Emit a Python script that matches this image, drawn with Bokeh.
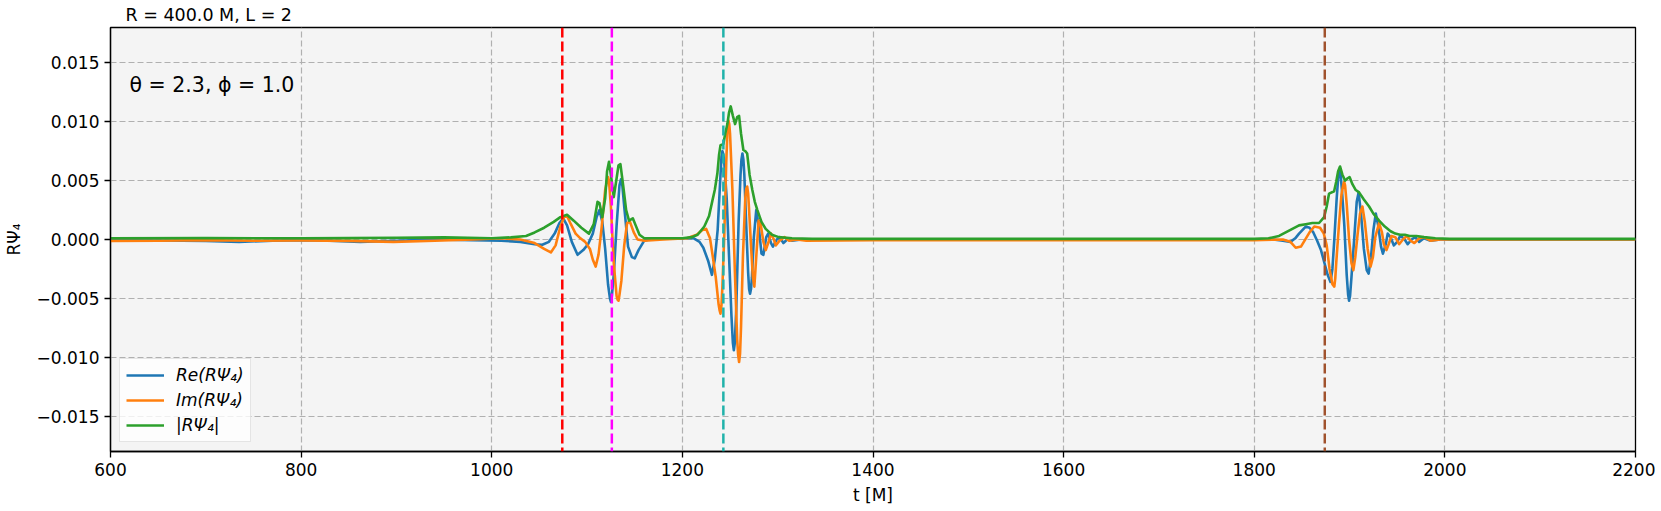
from bokeh.plotting import figure
from bokeh.models import Range1d, FixedTicker, CustomJSTickFormatter, Span, Label
from bokeh.embed import file_html
from bokeh.resources import INLINE

# ---------------- data: (t [M], value) ----------------
re_points = [
    (600, -0.00005), (650, -0.00008), (700, -0.00012), (735, -0.0002), (770, -0.0001),
    (800, -0.00005), (830, -0.0001), (862, -0.0002), (900, -0.0001), (940, 0.0),
    (980, -0.00005), (1010, -0.0001), (1030, -0.0002), (1045, -0.0004), (1053, -0.00045),
    (1060, -0.0002), (1066, 0.0005), (1071, 0.0014), (1075, 0.0018), (1079, 0.0012),
    (1084, -0.0002), (1090, -0.0013), (1096, -0.0009), (1101, -0.0004), (1106, 0.0005),
    (1110, 0.0019), (1113, 0.0025), (1116, 0.0015), (1119, -0.0008), (1122, -0.0038),
    (1124, -0.005), (1125, -0.0053), (1126, -0.0048), (1128, -0.003), (1131, 0.0012),
    (1134, 0.0046), (1135.5, 0.0051), (1137, 0.0046), (1139, 0.0028), (1143, -0.0006),
    (1147, -0.0015), (1150, -0.0016), (1154, -0.0009), (1160, -0.0001), (1170, 0.0001),
    (1190, 0.0001), (1205, 0.0001), (1212, 0.0001), (1218, -0.0002), (1222, -0.0007),
    (1227, -0.0018), (1231, -0.003), (1234, -0.0017), (1237, 0.0008), (1240, 0.0055),
    (1241, 0.007), (1242, 0.0075), (1243, 0.0072), (1244, 0.0065), (1246.5, 0.0035),
    (1249, -0.0015), (1251.5, -0.0065), (1253, -0.0088), (1254, -0.0094), (1255, -0.0088),
    (1256.5, -0.006), (1259, 0.0015), (1261, 0.0055), (1262, 0.0068), (1263, 0.0073),
    (1264, 0.0068), (1265, 0.0055), (1267, 0.0012), (1269, -0.0028), (1270, -0.0042),
    (1271, -0.0046), (1272, -0.0042), (1273, -0.0032), (1275, 0.0002), (1277.5, 0.0025),
    (1280, 0.0012), (1283, -0.0012), (1285, -0.0013), (1288, 0.0002), (1290, 0.0005),
    (1293, -0.0003), (1295, -0.0006), (1299, 0.0), (1302, 0.0002), (1306, -0.0003),
    (1310, 0.0), (1315, -0.0001), (1325, 0.0), (1400, 0.0), (1600, 0.0), (1800, 0.0),
    (1820, 0.0), (1830, -0.0001), (1838, -0.0002), (1843, 0.0001), (1847, 0.0005),
    (1854, 0.0011), (1858, 0.001), (1862, 0.0006), (1866, -0.0001), (1870, -0.0009),
    (1874, -0.0021), (1877, -0.003), (1880, -0.0036), (1882, -0.0025), (1884, 0.0),
    (1886.5, 0.0035), (1888.5, 0.0057), (1889.5, 0.006), (1890.5, 0.0056), (1892, 0.0042),
    (1894.5, 0.0012), (1897, -0.003), (1898.5, -0.0047), (1899.5, -0.0052), (1900.5, -0.0048),
    (1902, -0.0032), (1905, 0.0002), (1907.5, 0.0032), (1909.5, 0.004), (1912, 0.0022),
    (1915, -0.0008), (1918, -0.0026), (1920, -0.0029), (1922.5, -0.0015), (1925, 0.0008),
    (1927.5, 0.0022), (1930, 0.0012), (1933, -0.0006), (1935, -0.0012), (1938, -0.0004),
    (1940, 0.0005), (1943, 0.0002), (1946.5, -0.0005), (1950, -0.0002), (1953, 0.0003),
    (1957, 0.0001), (1961, -0.0004), (1965, 0.0), (1969, 0.0002), (1973, -0.0002),
    (1978, 0.0001), (1985, -0.0001), (1995, 0.0), (2050, 0.0), (2200, 0.0),
]

im_points = [
    (600, -0.00012), (650, -0.0001), (700, -0.00005), (750, -0.0001), (800, -0.00008),
    (850, -0.00012), (897, -0.0002), (940, -0.0001), (980, 0.0), (1010, 0.0001),
    (1030, 0.0), (1045, -0.0003), (1055, -0.0008), (1062, -0.0011), (1067, -0.0005),
    (1072, 0.0011), (1076, 0.0019), (1079, 0.002), (1083, 0.0013), (1088, 0.0005),
    (1093, 0.0001), (1098, -0.0002), (1103, -0.0008), (1106, -0.0017), (1109, -0.0023),
    (1112, -0.0013), (1115, 0.0008), (1119, 0.0042), (1121, 0.005), (1122, 0.0053),
    (1123, 0.005), (1125, 0.0028), (1128, -0.002), (1131, -0.0048), (1132, -0.0051),
    (1133, -0.0052), (1134, -0.0047), (1136, -0.0035), (1139, -0.0005), (1142, 0.0014),
    (1145, 0.0015), (1149, 0.0006), (1153, 0.0), (1160, -0.0001), (1180, 0.0),
    (1205, 0.0001), (1215, 0.0004), (1221, 0.0008), (1225, 0.0009), (1229, 0.0001),
    (1232, -0.0015), (1235, -0.0032), (1238, -0.0055), (1239, -0.006), (1240, -0.0063),
    (1241, -0.0056), (1242, -0.004), (1244, 0.0005), (1246, 0.0065), (1247.3, 0.0092),
    (1248.3, 0.0101), (1249.2, 0.0098), (1250, 0.009), (1252.5, 0.0042), (1255, -0.0025),
    (1257.5, -0.0085), (1258.5, -0.0098), (1259.5, -0.0104), (1260.5, -0.0097),
    (1261.5, -0.0075), (1263.5, -0.0015), (1266, 0.0035), (1267, 0.0043), (1268, 0.0045),
    (1269, 0.0039), (1270, 0.0025), (1272, -0.0005), (1274, -0.0032), (1275.5, -0.004),
    (1277.5, -0.0015), (1280, 0.0016), (1282, 0.0014), (1285, -0.0002), (1287.5, -0.0009),
    (1290, -0.0003), (1293, 0.0005), (1296, 0.0), (1298, -0.0005), (1302, -0.0001),
    (1307, 0.0002), (1312, -0.0001), (1320, 0.0), (1330, -0.0001), (1400, -0.00005),
    (1600, -0.00005), (1800, -0.00005), (1830, 0.0), (1838, -0.0002), (1843.5, -0.0007),
    (1849, -0.0006), (1855, 0.0002), (1858, 0.0006), (1863, 0.0011), (1869, 0.001),
    (1873, 0.0005), (1876, -0.0005), (1879, -0.0025), (1882, -0.0038), (1883, -0.0039),
    (1884, -0.004), (1885, -0.0033), (1886, -0.002), (1889, 0.0014), (1891.5, 0.0038),
    (1893.3, 0.0046), (1894.3, 0.0049), (1895.3, 0.0046), (1897, 0.003), (1899.5, 0.0),
    (1902, -0.002), (1904, -0.0026), (1906, -0.0015), (1908.5, 0.0005), (1911, 0.0022),
    (1913.5, 0.0028), (1916, 0.0015), (1919, -0.0008), (1922, -0.0023), (1924.5, -0.0015),
    (1927, 0.0002), (1931, 0.0014), (1934, 0.0006), (1936, -0.0004), (1938.7, -0.0009),
    (1941, -0.0004), (1944, 0.0003), (1948, 0.0002), (1952, -0.0004), (1956, 0.0),
    (1960, 0.0003), (1964, -0.0001), (1968, -0.0003), (1973, 0.0001), (1978, 0.0002),
    (1985, -0.0001), (1995, 0.0), (2200, 0.0),
]

abs_points = [
    (600, 0.0001), (700, 0.00012), (800, 0.0001), (850, 0.00012), (900, 0.00015),
    (950, 0.00018), (1000, 0.0001), (1020, 0.00018), (1036, 0.0003), (1045, 0.0006),
    (1055, 0.001), (1065, 0.0015), (1072, 0.0019), (1079, 0.0021), (1086, 0.0016),
    (1094, 0.001), (1102, 0.0005), (1107, 0.0013), (1111, 0.0032), (1113, 0.0031),
    (1116, 0.0019), (1119, 0.0035), (1121, 0.0058), (1123, 0.0066), (1125, 0.0055),
    (1128, 0.0036), (1131, 0.0052), (1133, 0.0063), (1135, 0.0064), (1138, 0.0045),
    (1141, 0.0025), (1144, 0.0016), (1148, 0.0018), (1151, 0.0012), (1155, 0.0004),
    (1160, 0.0001), (1200, 0.0001), (1210, 0.0002), (1216, 0.0004), (1223, 0.0011),
    (1228, 0.002), (1231.5, 0.0033), (1234, 0.0042), (1236.7, 0.0056), (1238.5, 0.0072),
    (1240, 0.008), (1243, 0.0081), (1245, 0.009), (1247.2, 0.0098), (1249, 0.0108),
    (1250.7, 0.0113), (1253, 0.0105), (1255.3, 0.0098), (1257.5, 0.0104), (1259.5, 0.0105),
    (1261.5, 0.009), (1264, 0.0076), (1266, 0.0075), (1268, 0.0073), (1270.5, 0.0055),
    (1273.4, 0.0042), (1276, 0.0032), (1278.7, 0.0025), (1283, 0.0015), (1287.4, 0.0009),
    (1294, 0.0004), (1301, 0.0002), (1315, 0.0001), (1336, 0.00005), (1800, 0.00005),
    (1815, 0.0001), (1826, 0.0003), (1833, 0.0006), (1840, 0.0009), (1847, 0.0012),
    (1854, 0.0013), (1861, 0.0014), (1868, 0.0014), (1873.3, 0.0019), (1876, 0.0028),
    (1878.5, 0.0039), (1883.8, 0.0041), (1886, 0.0049), (1888, 0.0058), (1890, 0.0062),
    (1892.5, 0.0055), (1895.3, 0.005), (1898, 0.0052), (1900, 0.0053), (1903, 0.0047),
    (1906.5, 0.0042), (1910, 0.004), (1915, 0.0034), (1920.5, 0.0028), (1925, 0.0022),
    (1931, 0.0016), (1937, 0.0011), (1943, 0.0007), (1948, 0.0005), (1953, 0.0004),
    (1958, 0.0004), (1963, 0.0003), (1970, 0.0003), (1978, 0.0002), (1990, 0.0001),
    (2005, 0.00005), (2200, 0.00005),
]

event_times = [1074, 1126, 1243, 1874]
event_colors = ["#ff0000", "#ff00ff", "#20b2aa", "#a0522d"]

x_ticks = [600, 800, 1000, 1200, 1400, 1600, 1800, 2000, 2200]
y_ticks = [-0.015, -0.010, -0.005, 0.0, 0.005, 0.010, 0.015]

title_text = "R = 400.0 M, L = 2"
angle_text = "θ = 2.3, ϕ = 1.0"
labels = ["Re(RΨ₄)", "Im(RΨ₄)", "|RΨ₄|"]
colors = ["#1f77b4", "#ff7f0e", "#2ca02c"]

# ---------------- figure ----------------
FONT = "DejaVu Sans"
p = figure(frame_width=1525, frame_height=424,
           x_range=Range1d(600, 2200), y_range=Range1d(-0.018, 0.018),
           output_backend="svg", toolbar_location=None,
           min_border_left=100, min_border_right=20, min_border_top=10, min_border_bottom=50,
           title=title_text)

p.title.text_font = FONT
p.title.text_font_size = "17.5px"
p.title.text_font_style = "normal"
p.title.text_color = "black"
p.title.align = "left"
p.title.offset = 15
p.title.standoff = 5

p.background_fill_color = "#f4f4f4"
p.border_fill_color = "white"
p.outline_line_color = "black"
p.outline_line_width = 1.3

for ax in (p.xaxis[0], p.yaxis[0]):
    ax.major_label_text_font = FONT
    ax.major_label_text_font_size = "17px"
    ax.major_label_text_color = "black"
    ax.axis_label_text_font = FONT
    ax.axis_label_text_font_size = "17px"
    ax.axis_label_text_font_style = "normal"
    ax.axis_label_text_color = "black"
    ax.axis_line_color = "black"
    ax.axis_line_width = 1.3
    ax.major_tick_line_color = "black"
    ax.major_tick_line_width = 1.3
    ax.major_tick_out = 6
    ax.major_tick_in = 0
    ax.minor_tick_line_color = None
    ax.major_label_standoff = 5

p.xaxis.ticker = FixedTicker(ticks=x_ticks)
p.yaxis.ticker = FixedTicker(ticks=y_ticks)
p.yaxis.formatter = CustomJSTickFormatter(
    code="return (tick < -1e-12 ? '\u2212' : '') + Math.abs(tick).toFixed(3);")
p.xaxis.axis_label = "t [M]"
p.yaxis.axis_label = "RΨ₄"
p.xaxis.axis_label_standoff = 6
p.yaxis.axis_label_standoff = 10

for g in (p.xgrid[0], p.ygrid[0]):
    g.grid_line_color = "#b0b0b0"
    g.grid_line_dash = "6 3"
    g.grid_line_width = 1.2
p.xgrid.ticker = FixedTicker(ticks=x_ticks)
p.ygrid.ticker = FixedTicker(ticks=y_ticks)

series = [re_points, im_points, abs_points]
for pts, lab, col in zip(series, labels, colors):
    tx = [a for a, _ in pts]
    vy = [b for _, b in pts]
    p.line(tx, vy, line_color=col, line_width=2.6, legend_label=lab, line_join="round")

for t, c in zip(event_times, event_colors):
    p.add_layout(Span(location=t, dimension="height", line_color=c,
                      line_dash="10 4", line_width=2.5))

p.add_layout(Label(x=620, y=0.0131, text=angle_text, text_font=FONT,
                   text_font_size="20.5px", text_baseline="middle", text_color="black"))

lg = p.legend[0]
lg.location = "bottom_left"
lg.label_text_font = FONT
lg.label_text_font_size = "17px"
lg.label_text_font_style = "italic"
lg.label_text_color = "black"
lg.glyph_width = 38
lg.glyph_height = 20
lg.label_standoff = 12
lg.spacing = 5
lg.padding = 6
lg.margin = 9
lg.border_line_color = "#cccccc"
lg.border_line_width = 1.2
lg.background_fill_color = "white"
lg.background_fill_alpha = 0.8

open("out.html", "w").write(file_html(p, INLINE))
